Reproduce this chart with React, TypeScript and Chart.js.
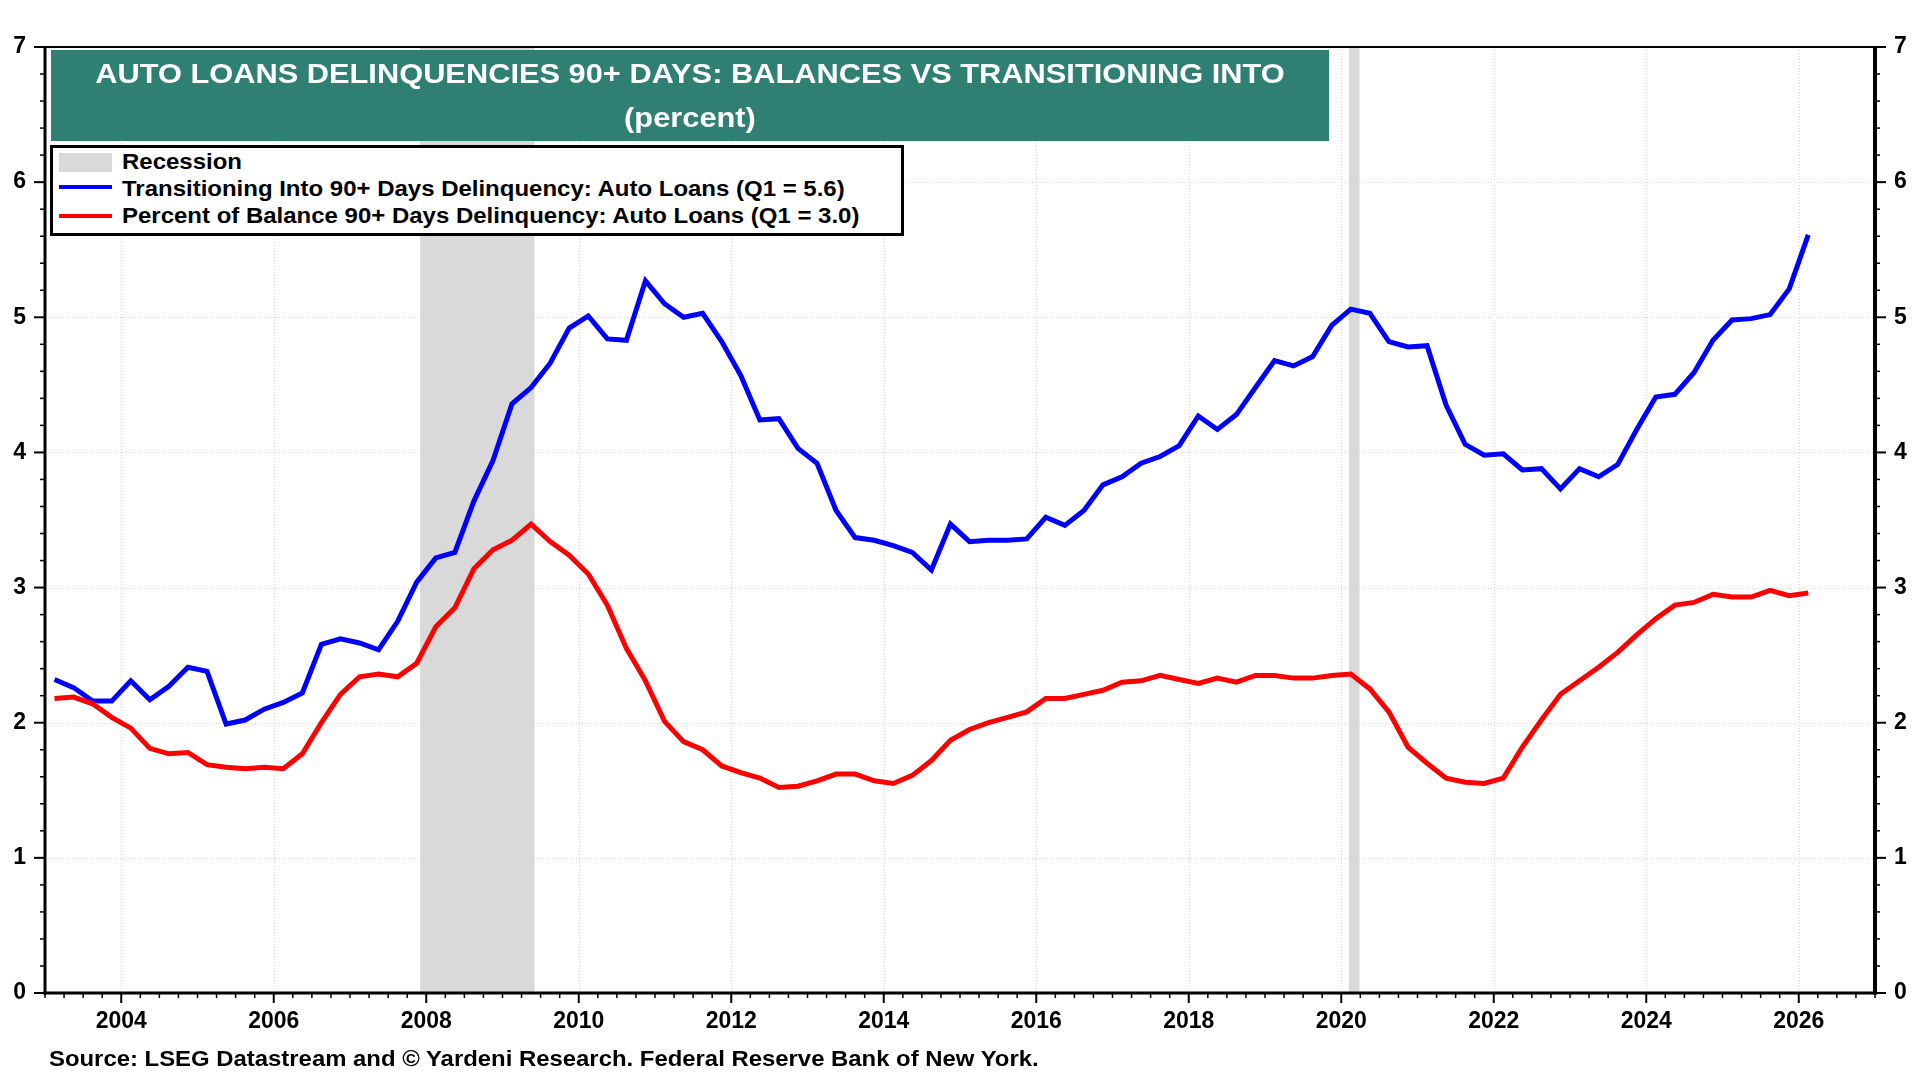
import React, { useEffect, useRef } from "react";
import { Chart, registerables } from "chart.js";

Chart.register(...registerables);

// ---- Data (quarterly, 2003 Q1 .. 2026 Q1) ----
const quarterLabels: string[] = [];
for (let yr = 2003; yr <= 2026; yr++) {
  for (let q = 1; q <= 4; q++) {
    if (yr === 2026 && q > 1) break;
    quarterLabels.push(`${yr}Q${q}`);
  }
}

const transitioningInto90 = [
  2.32, 2.26, 2.16, 2.16,
  2.31, 2.17, 2.27, 2.41,
  2.38, 1.99, 2.02, 2.10,
  2.15, 2.22, 2.58, 2.62,
  2.59, 2.54, 2.75, 3.04,
  3.22, 3.26, 3.64, 3.94,
  4.36, 4.48, 4.66, 4.92,
  5.01, 4.84, 4.83, 5.27,
  5.10, 5.00, 5.03, 4.82,
  4.57, 4.24, 4.25, 4.03,
  3.92, 3.57, 3.37, 3.35,
  3.31, 3.26, 3.13, 3.47,
  3.34, 3.35, 3.35, 3.36,
  3.52, 3.46, 3.57, 3.76,
  3.82, 3.92, 3.97, 4.05,
  4.27, 4.17, 4.28, 4.48,
  4.68, 4.64, 4.71, 4.94,
  5.06, 5.03, 4.82, 4.78,
  4.79, 4.35, 4.06, 3.98,
  3.99, 3.87, 3.88, 3.73,
  3.88, 3.82, 3.91, 4.17,
  4.41, 4.43, 4.59, 4.83,
  4.98, 4.99, 5.02, 5.21,
  5.61,
];

const percentOfBalance90 = [
  2.18, 2.19, 2.14, 2.04,
  1.96, 1.81, 1.77, 1.78,
  1.69, 1.67, 1.66, 1.67,
  1.66, 1.77, 2.00, 2.21,
  2.34, 2.36, 2.34, 2.44,
  2.71, 2.85, 3.14, 3.28,
  3.35, 3.47, 3.34, 3.24,
  3.10, 2.87, 2.55, 2.31,
  2.01, 1.86, 1.80, 1.68,
  1.63, 1.59, 1.52, 1.53,
  1.57, 1.62, 1.62, 1.57,
  1.55, 1.61, 1.72, 1.87,
  1.95, 2.00, 2.04, 2.08,
  2.18, 2.18, 2.21, 2.24,
  2.30, 2.31, 2.35, 2.32,
  2.29, 2.33, 2.30, 2.35,
  2.35, 2.33, 2.33, 2.35,
  2.36, 2.25, 2.08, 1.82,
  1.70, 1.59, 1.56, 1.55,
  1.59, 1.82, 2.02, 2.21,
  2.31, 2.41, 2.52, 2.65,
  2.77, 2.87, 2.89, 2.95,
  2.93, 2.93, 2.98, 2.94,
  2.96,
];

const recessionStarts = [2007.92, 2020.1];
const recessionEnds = [2009.42, 2020.24];

const xTickYears = [2004, 2006, 2008, 2010, 2012, 2014, 2016, 2018, 2020, 2022, 2024, 2026];
const yTickValues = [0, 1, 2, 3, 4, 5, 6, 7];
const xMin = 2003;
const xMax = 2027;
const yMin = 0;
const yMax = 7;

const titleLine1 = "AUTO LOANS DELINQUENCIES 90+ DAYS: BALANCES VS TRANSITIONING INTO";
const titleLine2 = "(percent)";
const legendRecession = "Recession";
const legendBlue = "Transitioning Into 90+ Days Delinquency: Auto Loans (Q1 = 5.6)";
const legendRed = "Percent of Balance 90+ Days Delinquency: Auto Loans (Q1 = 3.0)";
const sourceText = "Source: LSEG Datastream and \u00A9 Yardeni Research. Federal Reserve Bank of New York.";

// quarter label -> decimal year at mid-quarter
function quarterToX(label: string): number {
  const yr = parseInt(label.slice(0, 4), 10);
  const q = parseInt(label.slice(5), 10);
  return yr + (q - 1) * 0.25 + 0.125;
}

const FONT = '"Liberation Sans", Arial, Helvetica, sans-serif';
const BLUE = "#0000ff";
const RED = "#ff0000";
const TEAL = "#2f7f73";
const RECESSION_GRAY = "#d9d9d9";

const decorPlugin = {
  id: "decor",
  beforeDatasetsDraw(chart: any) {
    const { ctx, chartArea: a, scales } = chart;
    const x = scales.x;
    const y = scales.y;
    ctx.save();
    // recession bands
    ctx.fillStyle = RECESSION_GRAY;
    recessionStarts.forEach((s, i) => {
      const x0 = x.getPixelForValue(s);
      const x1 = x.getPixelForValue(recessionEnds[i]);
      ctx.fillRect(x0, a.top, x1 - x0, a.bottom - a.top);
    });
    // dotted grid lines
    ctx.strokeStyle = "#d8d8d8";
    ctx.lineWidth = 1;
    ctx.setLineDash([1, 2]);
    xTickYears.forEach((v) => {
      const px = Math.round(x.getPixelForValue(v)) + 0.5;
      ctx.beginPath();
      ctx.moveTo(px, a.top);
      ctx.lineTo(px, a.bottom);
      ctx.stroke();
    });
    yTickValues.forEach((v) => {
      if (v === yMin || v === yMax) return;
      const py = Math.round(y.getPixelForValue(v)) + 0.5;
      ctx.beginPath();
      ctx.moveTo(a.left, py);
      ctx.lineTo(a.right, py);
      ctx.stroke();
    });
    ctx.restore();
  },
  afterDatasetsDraw(chart: any) {
    const { ctx, chartArea: a, scales } = chart;
    const x = scales.x;
    const y = scales.y;
    ctx.save();
    ctx.fillStyle = "#000";
    // tick marks: y (left + right)
    for (let i = 0; i <= 35; i++) {
      const v = i * 0.2;
      const py = y.getPixelForValue(v);
      const major = i % 5 === 0;
      const len = major ? 11 : 5;
      const w = major ? 2 : 1.5;
      ctx.fillRect(a.left - len, py - w / 2, len, w);
      ctx.fillRect(a.right, py - w / 2, len, w);
    }
    // tick marks: x (quarters minor, even years major)
    for (let i = 0; i <= (xMax - xMin) * 4; i++) {
      const v = xMin + i * 0.25;
      const px = x.getPixelForValue(v);
      const major = xTickYears.indexOf(v) >= 0;
      const len = major ? 10 : 5;
      const w = major ? 2 : 1.5;
      ctx.fillRect(px - w / 2, a.bottom, w, len);
    }
    // frame
    ctx.fillRect(a.left, a.top - 1, a.right - a.left, 2); // top
    ctx.fillRect(a.left - 1.5, a.top - 1, 3, a.bottom - a.top + 2.5); // left
    ctx.fillRect(a.right - 2, a.top - 1, 4, a.bottom - a.top + 2.5); // right
    ctx.fillRect(a.left - 1.5, a.bottom - 1.5, a.right - a.left + 3.5, 3); // bottom
    ctx.restore();
  },
};

const tickFont = { family: FONT, size: 23, weight: "bold" as const };

export default function App() {
  const canvasRef = useRef<HTMLCanvasElement | null>(null);

  useEffect(() => {
    if (!canvasRef.current) return;
    const xs = quarterLabels.map(quarterToX);
    const chart = new Chart(canvasRef.current, {
      type: "line",
      data: {
        datasets: [
          {
            label: legendBlue,
            data: transitioningInto90.map((v, i) => ({ x: xs[i], y: v })),
            borderColor: BLUE,
            borderWidth: 5,
            pointRadius: 0,
            tension: 0,
            fill: false,
            order: 1,
          },
          {
            label: legendRed,
            data: percentOfBalance90.map((v, i) => ({ x: xs[i], y: v })),
            borderColor: RED,
            borderWidth: 5,
            pointRadius: 0,
            tension: 0,
            fill: false,
            order: 0,
          },
        ],
      },
      options: {
        animation: false,
        responsive: false,
        maintainAspectRatio: false,
        devicePixelRatio: 1,
        layout: { padding: { top: 47, bottom: 37, left: 0, right: 0 } },
        plugins: {
          legend: { display: false },
          tooltip: { enabled: false },
          title: { display: false },
        },
        scales: {
          x: {
            type: "linear",
            min: xMin,
            max: xMax,
            grid: { display: false, drawTicks: false },
            border: { display: false },
            afterBuildTicks: (s: any) => {
              s.ticks = xTickYears.map((v) => ({ value: v }));
            },
            afterFit: (s: any) => {
              s.height = 50;
            },
            ticks: {
              autoSkip: false,
              maxRotation: 0,
              minRotation: 0,
              padding: 15,
              color: "#000",
              font: tickFont,
              callback: (v: any) => String(v),
            },
          },
          y: {
            type: "linear",
            position: "left",
            min: yMin,
            max: yMax,
            grid: { display: false, drawTicks: false },
            border: { display: false },
            afterBuildTicks: (s: any) => {
              s.ticks = yTickValues.map((v) => ({ value: v }));
            },
            afterFit: (s: any) => {
              s.width = 45;
            },
            ticks: {
              padding: 19,
              color: "#000",
              font: tickFont,
              callback: (v: any) => String(v),
            },
          },
          y2: {
            type: "linear",
            position: "right",
            min: yMin,
            max: yMax,
            grid: { display: false, drawTicks: false },
            border: { display: false },
            afterBuildTicks: (s: any) => {
              s.ticks = yTickValues.map((v) => ({ value: v }));
            },
            afterFit: (s: any) => {
              s.width = 45;
            },
            ticks: {
              padding: 19,
              color: "#000",
              font: tickFont,
              callback: (v: any) => String(v),
            },
          },
        },
      },
      plugins: [decorPlugin],
    } as any);
    return () => chart.destroy();
  }, []);

  const textBase: React.CSSProperties = {
    position: "absolute",
    fontFamily: FONT,
    fontWeight: "bold",
    whiteSpace: "nowrap",
    color: "#000",
  };

  return (
    <div
      style={{
        position: "absolute",
        left: 0,
        top: 0,
        width: 1920,
        height: 1080,
        background: "#fff",
        overflow: "hidden",
      }}
    >
      <canvas
        ref={canvasRef}
        width={1920}
        height={1080}
        style={{ position: "absolute", left: 0, top: 0, width: 1920, height: 1080 }}
      />
      {/* Title banner */}
      <div
        style={{
          position: "absolute",
          left: 51,
          top: 50,
          width: 1278,
          height: 91,
          background: TEAL,
        }}
      >
        <div
          style={{
            ...textBase,
            color: "#fff",
            left: 0,
            width: 1278,
            top: 10,
            fontSize: 28,
            lineHeight: "28px",
            textAlign: "center",
            transform: "scaleX(1.1)",
            transformOrigin: "center",
          }}
        >
          {titleLine1}
        </div>
        <div
          style={{
            ...textBase,
            color: "#fff",
            left: 0,
            width: 1278,
            top: 54,
            fontSize: 28,
            lineHeight: "28px",
            textAlign: "center",
            transform: "scaleX(1.1)",
            transformOrigin: "center",
          }}
        >
          {titleLine2}
        </div>
      </div>
      {/* Legend */}
      <div
        style={{
          position: "absolute",
          left: 50,
          top: 145,
          width: 854,
          height: 91,
          border: "3px solid #000",
          boxSizing: "border-box",
          background: "#fff",
        }}
      />
      <div style={{ position: "absolute", left: 59, top: 153, width: 53, height: 19, background: RECESSION_GRAY }} />
      <div style={{ position: "absolute", left: 59, top: 185, width: 53, height: 4, background: BLUE }} />
      <div style={{ position: "absolute", left: 59, top: 214, width: 53, height: 4, background: RED }} />
      {[legendRecession, legendBlue, legendRed].map((t, i) => (
        <div
          key={i}
          style={{
            ...textBase,
            left: 122,
            top: 151 + i * 27,
            fontSize: 22,
            lineHeight: "22px",
            transform: "scaleX(1.09)",
            transformOrigin: "left center",
          }}
        >
          {t}
        </div>
      ))}
      {/* Source */}
      <div
        style={{
          ...textBase,
          left: 49,
          top: 1048,
          fontSize: 22,
          lineHeight: "22px",
          transform: "scaleX(1.086)",
          transformOrigin: "left center",
        }}
      >
        {sourceText}
      </div>
    </div>
  );
}
